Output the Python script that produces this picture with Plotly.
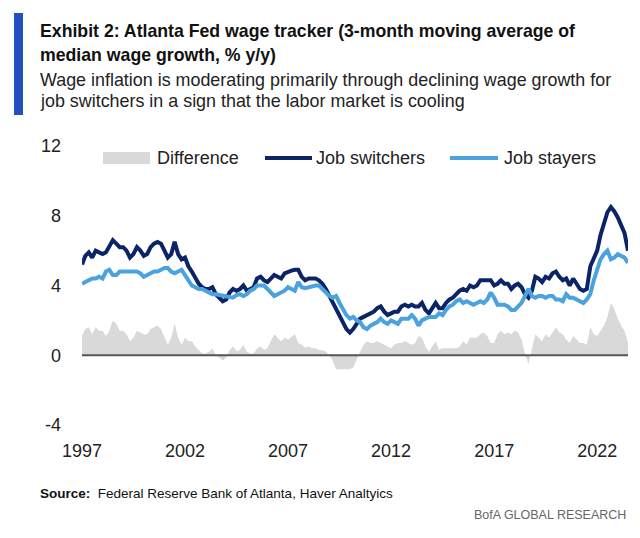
import pandas as pd
import plotly.graph_objects as go

# ---------------- data (2-month spacing) ----------------
dates = pd.date_range("1997-01-01", "2023-07-01", freq="2MS")

job_switchers = [
    5.2, 5.7, 5.9, 5.6, 6.0, 5.9,   # 1997
    5.8, 5.9, 6.3, 6.6, 6.4, 6.2,   # 1998
    6.2, 6.0, 5.6, 5.8, 6.2, 6.0,   # 1999
    5.7, 5.8, 6.2, 6.4, 6.5, 6.4,   # 2000
    6.0, 5.6, 5.8, 6.5, 5.8, 5.5,   # 2001
    5.6, 5.1, 4.8, 4.4, 4.1, 3.9,   # 2002
    3.8, 3.8, 3.9, 3.5, 3.3, 3.1,   # 2003
    3.2, 3.6, 3.8, 3.7, 3.8, 4.0,   # 2004
    3.7, 3.8, 3.9, 4.4, 4.5, 4.3,   # 2005
    4.2, 4.4, 4.6, 4.5, 4.4, 4.7,   # 2006
    4.8, 4.85, 4.9, 4.9, 4.5, 4.3,  # 2007
    4.4, 4.4, 4.4, 4.3, 4.1, 3.8,   # 2008
    3.4, 3.0, 2.6, 2.2, 1.8, 1.5,   # 2009
    1.3, 1.5, 1.8, 2.1, 2.2, 2.3,   # 2010
    2.4, 2.5, 2.7, 2.8, 2.5, 2.3,   # 2011
    2.4, 2.5, 2.5, 2.8, 2.9, 2.8,   # 2012
    2.9, 2.8, 2.8, 3.0, 2.6, 2.4,   # 2013
    2.7, 3.0, 2.7, 2.7, 3.0, 3.2,   # 2014
    3.3, 3.5, 3.7, 3.8, 3.7, 4.0,   # 2015
    3.9, 4.0, 4.3, 4.3, 4.3, 4.3,   # 2016
    4.0, 4.1, 4.3, 4.1, 4.1, 3.8,   # 2017
    4.0, 4.1, 3.9, 3.5, 3.3, 3.7,   # 2018
    4.5, 4.4, 4.2, 4.5, 4.4, 4.7,   # 2019
    4.8, 4.5, 4.3, 4.4, 4.0, 4.4,   # 2020
    4.1, 3.8, 3.7, 3.8, 5.1, 5.5,   # 2021
    6.0, 6.9, 7.5, 8.2, 8.5, 8.25,  # 2022
    7.9, 7.4, 7.0, 6.0,             # 2023
]

job_stayers = [
    4.1, 4.2, 4.3, 4.4, 4.4, 4.5,   # 1997
    4.4, 4.8, 4.9, 4.6, 4.6, 4.8,   # 1998
    4.8, 4.8, 4.8, 4.8, 4.8, 4.7,   # 1999
    4.5, 4.6, 4.7, 4.8, 4.8, 4.9,   # 2000
    5.0, 5.0, 4.8, 4.7, 4.8, 4.9,   # 2001
    4.6, 4.3, 4.0, 3.9, 3.8, 3.8,   # 2002
    3.7, 3.6, 3.5, 3.5, 3.45, 3.4,  # 2003
    3.35, 3.3, 3.3, 3.45, 3.5, 3.4, # 2004
    3.5, 3.7, 3.8, 4.0, 4.0, 4.0,   # 2005
    3.8, 3.6, 3.4, 3.5, 3.6, 3.7,   # 2006
    3.9, 3.8, 3.7, 4.2, 3.9, 3.85,  # 2007
    3.9, 4.0, 4.0, 4.0, 3.8, 3.6,   # 2008
    3.4, 3.3, 3.4, 3.0, 2.6, 2.3,   # 2009
    2.1, 2.2, 2.0, 1.9, 1.6, 1.5,   # 2010
    1.7, 1.8, 1.9, 2.1, 1.9, 1.8,   # 2011
    2.0, 1.9, 1.8, 2.1, 2.1, 2.1,   # 2012
    2.3, 2.1, 1.7, 2.0, 2.1, 2.2,   # 2013
    2.2, 2.2, 2.4, 2.3, 2.6, 2.8,   # 2014
    2.9, 3.1, 3.2, 3.0, 3.1, 3.0,   # 2015
    2.9, 3.0, 3.1, 3.0, 3.2, 3.6,   # 2016
    3.3, 2.9, 2.9, 2.9, 2.8, 2.6,   # 2017
    2.6, 2.8, 3.0, 3.4, 3.8, 3.4,   # 2018
    3.3, 3.4, 3.4, 3.3, 3.4, 3.4,   # 2019
    3.2, 3.2, 3.1, 3.5, 3.3, 3.3,   # 2020
    3.2, 3.1, 3.0, 3.2, 3.5, 4.3,   # 2021
    4.9, 5.5, 5.8, 6.0, 5.5, 5.6,   # 2022
    5.8, 5.7, 5.6, 5.3,             # 2023
]

difference = [s - t for s, t in zip(job_switchers, job_stayers)]

series_names = ["Difference", "Job switchers", "Job stayers"]
y_ticks = [-4, 0, 4, 8, 12]
x_tick_years = [1997, 2002, 2007, 2012, 2017, 2022]

# ---------------- styling ----------------
FONT = "Liberation Sans, Arial, sans-serif"
NAVY = "#0B2468"
LIGHT = "#4AA3DF"
GREY = "#D9D9D9"
COLORS = [GREY, NAVY, LIGHT]

# page body has an 8px margin: the figure is drawn 8px smaller and offset
OFF = 8
W, H = 640 - OFF, 538 - OFF
PLOT_L, PLOT_R, PLOT_T, PLOT_B = 82, 628, 146, 425   # page pixel coords
L, T = PLOT_L - OFF, PLOT_T - OFF
R, B = W + OFF - PLOT_R, H + OFF - PLOT_B
PW, PH = PLOT_R - PLOT_L, PLOT_B - PLOT_T


def px(x):
    return (x - PLOT_L) / PW


def py(y):
    return (PLOT_B - y) / PH


fig = go.Figure()
fig.add_trace(go.Scatter(
    x=dates, y=difference, name=series_names[0], mode="lines",
    fill="tozeroy", fillcolor=GREY, line=dict(width=0, color=GREY),
))
fig.add_trace(go.Scatter(
    x=dates, y=job_switchers, name=series_names[1], mode="lines",
    line=dict(color=NAVY, width=4),
))
fig.add_trace(go.Scatter(
    x=dates, y=job_stayers, name=series_names[2], mode="lines",
    line=dict(color=LIGHT, width=4),
))

annotations = [
    dict(text="<b>Exhibit 2: Atlanta Fed wage tracker (3-month moving average of</b>",
         x=px(38), y=py(30.8), font=dict(size=17.7, color="#111111")),
    dict(text="<b>median wage growth, % y/y)</b>",
         x=px(38), y=py(54.6), font=dict(size=17.7, color="#111111")),
    dict(text="Wage inflation is moderating primarily through declining wage growth for",
         x=px(38), y=py(80.2), font=dict(size=17.9, color="#222222")),
    dict(text="job switchers in a sign that the labor market is cooling",
         x=px(38), y=py(100.5), font=dict(size=17.9, color="#222222")),
    dict(text="<b>Source:</b>  Federal Reserve Bank of Atlanta, Haver Analtyics",
         x=px(38), y=py(493), font=dict(size=13.5, color="#111111")),
]
for a in annotations:
    a.update(xref="paper", yref="paper", xanchor="left", yanchor="middle",
             showarrow=False)
annotations.append(dict(text="BofA GLOBAL RESEARCH", xref="paper", yref="paper",
                        x=px(628), y=py(515), xanchor="right", yanchor="middle",
                        showarrow=False, font=dict(size=12.5, color="#666666")))

shapes = [
    dict(type="rect", xref="paper", yref="paper", x0=px(14), x1=px(23),
         y0=py(115), y1=py(13), fillcolor="#2350C0", line=dict(width=0),
         layer="above"),
    dict(type="line", xref="paper", yref="y", x0=0, x1=1, y0=0, y1=0,
         line=dict(color="#555555", width=2), layer="above"),
]

# legend drawn in the plot's top band (swatch + label per series)
LEG_Y = 158
swatch_x = [(103, 150), (265, 312), (450, 498)]
label_x = [155, 314, 502]
for i, name in enumerate(series_names):
    x0, x1 = swatch_x[i]
    if i == 0:
        shapes.append(dict(type="rect", xref="paper", yref="paper",
                           x0=px(x0), x1=px(x1), y0=py(LEG_Y + 6), y1=py(LEG_Y - 6),
                           fillcolor=COLORS[i], line=dict(width=0)))
    else:
        shapes.append(dict(type="line", xref="paper", yref="paper",
                           x0=px(x0), x1=px(x1), y0=py(LEG_Y), y1=py(LEG_Y),
                           line=dict(color=COLORS[i], width=4)))
    annotations.append(dict(text=name, xref="paper", yref="paper",
                            x=px(label_x[i]), y=py(LEG_Y), xanchor="left",
                            yanchor="middle", showarrow=False,
                            font=dict(size=18, color="#222222")))

fig.update_layout(
    width=W, height=H,
    margin=dict(l=L, r=R, t=T, b=B, pad=0),
    paper_bgcolor="white", plot_bgcolor="white",
    font=dict(family=FONT, size=18, color="#222222"),
    showlegend=False,
    annotations=annotations,
    shapes=shapes,
    xaxis=dict(
        range=[dates[0], dates[-1]], showgrid=False, zeroline=False,
        showline=False, ticks="",
        tickvals=[pd.Timestamp(f"{y}-01-01") for y in x_tick_years],
        ticktext=[str(y) for y in x_tick_years],
        ticklabelstandoff=13, tickfont=dict(size=18, color="#222222"),
    ),
    yaxis=dict(
        range=[-4, 12], showgrid=False, zeroline=False, showline=False,
        ticks="", tickvals=y_ticks, ticktext=[str(v) for v in y_ticks],
        ticklabelstandoff=20, tickfont=dict(size=18, color="#222222"),
    ),
)

fig.write_html("out.html")
